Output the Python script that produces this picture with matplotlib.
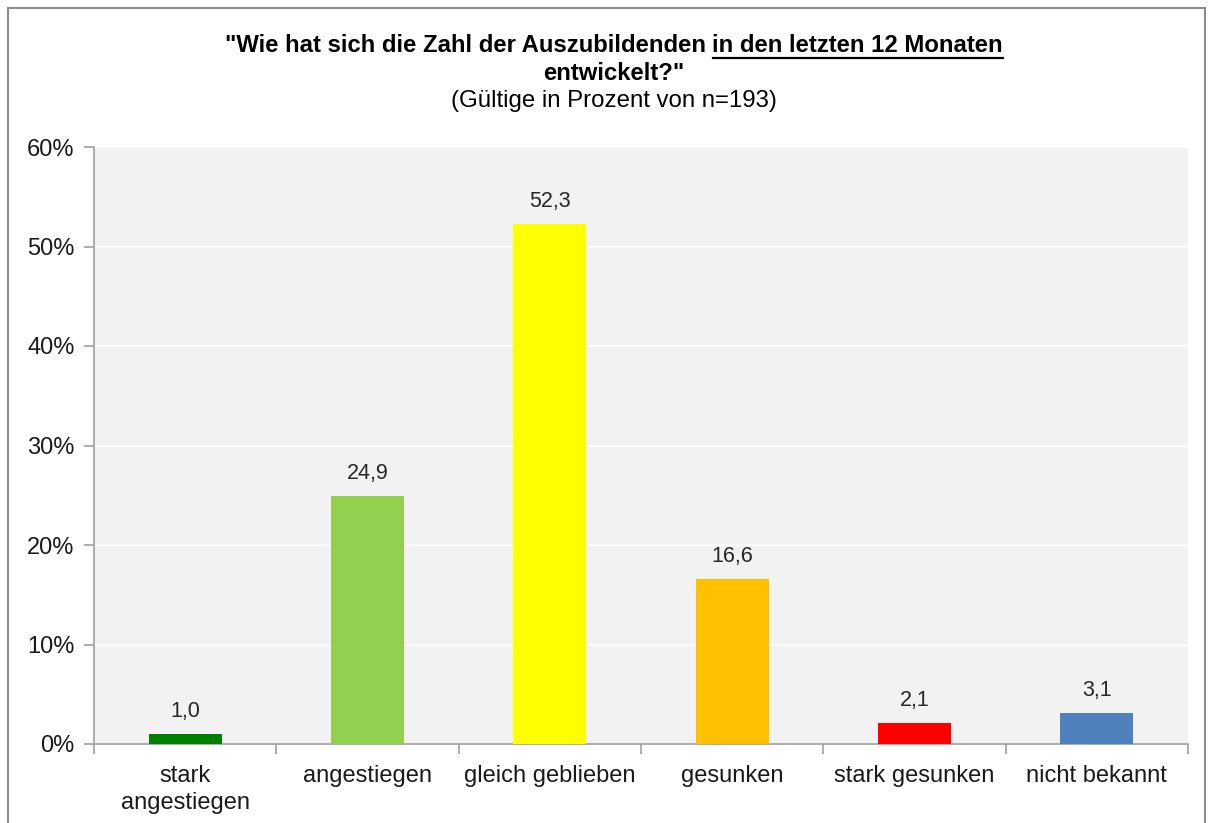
import matplotlib
matplotlib.use("Agg")
import matplotlib.pyplot as plt
from matplotlib.patches import Rectangle
from matplotlib.ticker import FuncFormatter

#  ------- data -------  #
categories = ["stark\nangestiegen", "angestiegen", "gleich geblieben",
              "gesunken", "stark gesunken", "nicht bekannt"]
values = [1.0, 24.9, 52.3, 16.6, 2.1, 3.1]
colors = ["#008000", "#92d050", "#ffff00", "#ffc000", "#ff0000", "#4f81bd"]
title_plain = '"Wie hat sich die Zahl der Auszubildenden '
title_under = "in den letzten 12 Monaten"
title_line2 = 'entwickelt?"'
subtitle = "(Gültige in Prozent von n=193)"

plt.rcParams['font.family'] = ['Liberation Sans', 'DejaVu Sans']

W, H = 1208, 823
fig = plt.figure(figsize=(W / 100, H / 100), dpi=100)
ax = fig.add_axes([94 / W, 1 - 744 / H, (1188 - 94) / W, (744 - 147) / H])

# frame around the chart
fig.patches.append(Rectangle((8 / W, -0.01), (1205 - 8) / W, 1 - 8 / H + 0.01,
                             transform=fig.transFigure, fill=False,
                             edgecolor="#8c8c8c", linewidth=1.5))

ax.set_facecolor("#f2f2f2")
x = range(len(categories))
ax.bar(x, values, width=0.4, color=colors, zorder=3)
for i, v in enumerate(values):
    ax.text(i, v + 1.2, f"{v:.1f}".replace(".", ","), ha="center", va="bottom",
            fontsize=15.5, color="#262626", zorder=4)

ax.set_xlim(-0.5, len(categories) - 0.5)
ax.set_ylim(0, 60)
ax.set_yticks(range(0, 61, 10))
ax.yaxis.set_major_formatter(FuncFormatter(lambda v, p: f"{v:.0f}%"))
ax.grid(axis="y", color="white", linewidth=1.2, zorder=1)
ax.set_axisbelow(True)

ax.set_xticks([i + 0.5 for i in range(-1, len(categories))])
ax.set_xticklabels([])
ax.set_xticks(list(x), minor=True)
ax.set_xticklabels(categories, minor=True, fontsize=17, color="#1a1a1a",
                   linespacing=1.3)
ax.tick_params(axis="x", which="minor", length=0, pad=15)
ax.tick_params(axis="x", which="major", length=7, color="#a0a0a0", width=1.2)
ax.tick_params(axis="y", length=7, color="#a0a0a0", width=1.2,
               labelsize=17, labelcolor="#1a1a1a", pad=7)

for s in ["top", "right"]:
    ax.spines[s].set_visible(False)
for s in ["left", "bottom"]:
    ax.spines[s].set_color("#a0a0a0")
    ax.spines[s].set_linewidth(1.2)

# title with partially underlined first line
fig.canvas.draw()
r = fig.canvas.get_renderer()
tkw = dict(fontsize=17.2, fontweight="bold", color="black")
t1 = fig.text(0, 1 - 45 / H, title_plain, va="center", **tkw)
t2 = fig.text(0, 1 - 45 / H, title_under, va="center", **tkw)
w1 = t1.get_window_extent(r).width
w2 = t2.get_window_extent(r).width
x0 = 614 - (w1 + w2) / 2
t1.set_x(x0 / W)
t2.set_x((x0 + w1) / W)
bb = t2.get_window_extent(r)
fig.add_artist(plt.Line2D([(x0 + w1) / W, (x0 + w1 + w2) / W],
                          [(bb.y0 - 1) / H, (bb.y0 - 1) / H],
                          transform=fig.transFigure, color="black", linewidth=1.6))
fig.text(614 / W, 1 - 73 / H, title_line2, ha="center", va="center", **tkw)
fig.text(614 / W, 1 - 101 / H, subtitle, ha="center", va="center",
         fontsize=17.3, color="black")

fig.savefig("out.png", dpi=100, facecolor="white")
